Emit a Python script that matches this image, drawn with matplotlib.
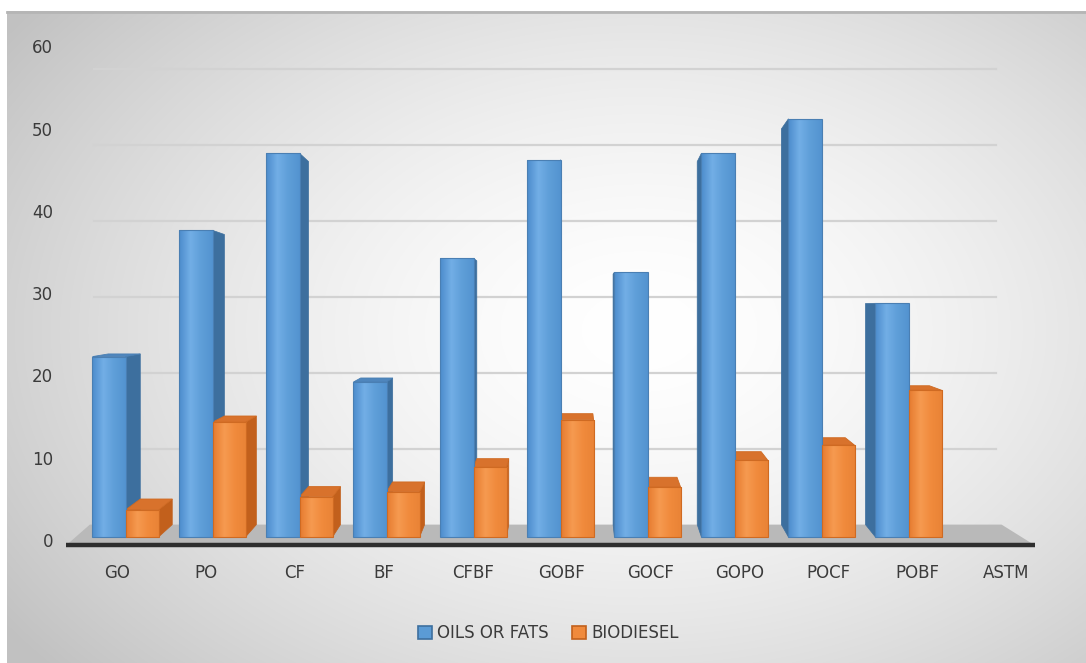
import numpy as np
import matplotlib
matplotlib.use("Agg")
import matplotlib.pyplot as plt
from matplotlib.patches import Polygon, Patch
from matplotlib.colors import LinearSegmentedColormap

# fatty acid content by sample
categories = ['GO', 'PO', 'CF', 'BF', 'CFBF', 'GOBF', 'GOCF', 'GOPO', 'POCF', 'POBF', 'ASTM']
oils_fats = [22.0, 37.4, 46.8, 18.9, 34.0, 46.0, 32.3, 46.8, 51.0, 28.5, 0.0]
biodiesel = [3.3, 14.0, 4.9, 5.5, 8.5, 14.3, 6.1, 9.4, 11.2, 17.9, 0.0]
y_ticks = [0, 10, 20, 30, 40, 50, 60]

BLUE = dict(front='#5b9bd5', side='#3d6f9e', top='#4f86bd', edge='#4a7fb3',
            grad=['#4c8ccc', '#72aee6', '#5e9ed8', '#5393d0'])
ORANGE = dict(front='#f08a3c', side='#c2601c', top='#d8722c', edge='#cf6a22',
              grad=['#e67c30', '#f69a50', '#f08a3c', '#e98336'])

W, H = 1086, 663
fig = plt.figure(figsize=(W / 100, H / 100), dpi=100)

# soft grey-to-white background of the chart area
bg = fig.add_axes([0, 0, 1, 1])
yy, xx = np.mgrid[0:H, 0:W]
r = np.sqrt(((xx - 640) / 620.0) ** 2 + ((yy - 330) / 420.0) ** 2)
shade = 1.0 - 0.17 * np.clip(r, 0, 1.25) ** 1.6
img = np.dstack([shade, shade, shade])
img[:11, :] = 1.0
img[:, :7] = 1.0
bg.imshow(img, extent=(0, W, H, 0), aspect='auto', interpolation='bilinear')
bg.plot([7, W], [11.5, 11.5], color='#b5b5b5', lw=2)
bg.set_xlim(0, W)
bg.set_ylim(H, 0)
bg.axis('off')

# main axes: one category unit = 87 px, one value unit = 8.2 px
ax = fig.add_axes([0, 0, 1, 1])
x0_px, step_px = 125.5, 87.0
base_px, unit_px = 537.0, 8.2
xlim = (-x0_px / step_px, (W - x0_px) / step_px)
ylim = ((base_px - H) / unit_px, base_px / unit_px)
ax.axis('off')
ax.patch.set_alpha(0)

n = len(categories)
x = np.arange(n)
bw = 0.38

# simple perspective: faces recede toward a point behind the plot
vx, kx = 5.15, 0.033
vy, ky = 28.0, 0.054
def dx(xv):
    return kx * (vx - xv)
def dy(yv):
    return ky * (vy - yv)

# floor and back-wall gridlines
back = dy(0)
fl = Polygon([(-0.68, -1.0), (10.45, -1.0), (10.07, back), (-0.41, back)],
             closed=True, facecolor='#b9b9b9', edgecolor='none', zorder=1)
ax.add_patch(fl)
ax.plot([-0.68, 10.45], [-1.0, -1.0], color='#2e2e2e', lw=3.2, zorder=6,
        solid_capstyle='butt')
wall_scale = 7.6 / 8.2
for v in y_ticks[1:]:
    gy = back + v * wall_scale
    ax.plot([-0.36, 10.0], [gy, gy], color='#d2d2d2', lw=1.6, zorder=0.5)

def box_faces(left, right, h, c):
    if h <= 0:
        return
    for xs, show in ((right, dx(right) > 0), (left, dx(left) < 0)):
        if show:
            side = [(xs, 0), (xs + dx(xs), dy(0)), (xs + dx(xs), h + dy(h)), (xs, h)]
            ax.add_patch(Polygon(side, closed=True, facecolor=c['side'],
                                 edgecolor=c['side'], lw=0.5, zorder=2))
    if dy(h) > 0:
        top = [(left, h), (right, h), (right + dx(right), h + dy(h)),
               (left + dx(left), h + dy(h))]
        ax.add_patch(Polygon(top, closed=True, facecolor=c['top'],
                             edgecolor=c['edge'], lw=0.6, zorder=3))

for i in range(n):
    box_faces(x[i] - bw, x[i], oils_fats[i], BLUE)
for i in range(n):
    box_faces(x[i], x[i] + bw, biodiesel[i], ORANGE)

def shaded_bars(lefts, heights, c, z):
    lw = [0.8 if h > 0 else 0 for h in heights]
    bars = ax.bar(lefts, heights, width=bw, align='edge', facecolor='none',
                  edgecolor=c['edge'], lw=lw, zorder=z)
    cmap = LinearSegmentedColormap.from_list('face', c['grad'])
    grad = np.linspace(0, 1, 64)[None, :]
    for rect in bars:
        if rect.get_height() <= 0:
            continue
        x0, w, h = rect.get_x(), rect.get_width(), rect.get_height()
        im = ax.imshow(grad, cmap=cmap, extent=(x0, x0 + w, 0, h), aspect='auto',
                       interpolation='bilinear', zorder=z - 0.2)
        im.set_clip_path(rect)
    return bars

shaded_bars(x - bw, oils_fats, BLUE, 4)
shaded_bars(x, biodiesel, ORANGE, 5)
ax.set_xlim(*xlim)
ax.set_ylim(*ylim)

txt = '#3b3b3b'
for v in y_ticks:
    ty = (base_px - (542 - 8.23 * v)) / unit_px
    ax.text((53 - x0_px) / step_px, ty, str(v), ha='right', va='center',
            fontsize=12, color=txt)
# category labels sit on a slightly wider spacing than the bars
label_x = x * 1.022 - 0.098
for lx, lab in zip(label_x, categories):
    ax.text(lx, (base_px - 573) / unit_px, lab, ha='center', va='center',
            fontsize=12, color=txt)

handles = [Patch(facecolor=BLUE['front'], edgecolor=BLUE['side'], lw=1.2, label='OILS OR FATS'),
           Patch(facecolor=ORANGE['front'], edgecolor=ORANGE['side'], lw=1.2, label='BIODIESEL')]
fig.legend(handles=handles, loc='center', bbox_to_anchor=(548 / W, 1 - 633 / H),
           ncol=2, frameon=False, fontsize=12, handlelength=0.85, handleheight=0.85,
           handletextpad=0.3, columnspacing=1.4, labelcolor=txt)

fig.savefig('out.png', dpi=100)
